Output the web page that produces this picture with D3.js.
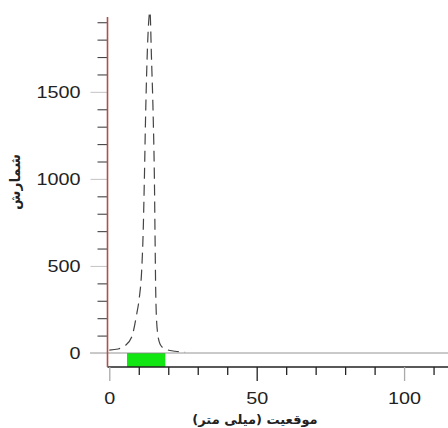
<!DOCTYPE html>
<html><head><meta charset="utf-8">
<script src="https://cdn.jsdelivr.net/npm/d3@7"></script>
<style>body{margin:0;background:#fff}svg{display:block}</style>
</head><body>
<script>
// Data (position in mm, counts)
const positions = [0, 3.0, 5.3, 7.6, 9.3, 10.2, 11.0, 11.5, 11.9, 12.3, 12.8, 13.8, 14.3, 14.9, 15.3, 15.5, 15.8, 16.3, 17.2, 18.9, 22.3, 25.7];
const counts    = [17, 23, 42, 92, 224, 320, 480, 700, 1000, 1350, 1680, 1960, 1700, 1350, 1000, 700, 305, 128, 52, 23, 10, 5];
const greenBand = [6, 19];
const xTicks = [0, 10, 20, 30, 40, 50, 60, 70, 80, 90, 100, 110];
const xMajor = [0, 50, 100];
const yTicks = [0,100,200,300,400,500,600,700,800,900,1000,1100,1200,1300,1400,1500,1600,1700,1800,1900];
const yMajor = [0, 500, 1000, 1500];
const xTitle = "موقعیت (میلی متر)";
const yTitle = "شمارش";

const W = 448, H = 428;
const svg = d3.select("body").append("svg").attr("width", W).attr("height", H);

const x = d3.scaleLinear().domain([0, 115]).range([109.3, 448.3]);
const y = d3.scaleLinear().domain([0, 1930]).range([353, 17]);
const axisY = 367;

// green band
svg.append("rect")
  .attr("x", x(greenBand[0])).attr("y", y(0))
  .attr("width", x(greenBand[1]) - x(greenBand[0]))
  .attr("height", axisY - y(0))
  .attr("fill", "#12e612");

// zero line
svg.append("line").attr("x1", 90).attr("x2", W).attr("y1", y(0)).attr("y2", y(0))
  .attr("stroke", "#888").attr("stroke-width", 0.9);

const digitW = 11;

// X axis
const xAxis = d3.axisBottom(x).tickValues(xTicks)
  .tickSize(8).tickFormat(d => xMajor.includes(d) ? d : "");
const gx = svg.append("g").attr("transform", `translate(0,${axisY})`).call(xAxis);
gx.select(".domain").attr("d", `M107.5,0H${W}`).attr("stroke", "#222").attr("stroke-width", 1.3);
gx.selectAll(".tick line")
  .attr("y2", d => xMajor.includes(d) ? 14 : 8)
  .attr("stroke", d => (d === 0 || d === 100) ? "#aaa" : "#222")
  .attr("stroke-width", 1.3);
gx.selectAll(".tick text").attr("y", 25)
  .attr("font-family", "Liberation Sans, Arial, sans-serif")
  .attr("font-size", 17).attr("fill", "#222")
  .each(function(d){ if (xMajor.includes(d)) d3.select(this).attr("textLength", String(d).length*digitW).attr("lengthAdjust","spacingAndGlyphs"); });

// Y axis
const yAxis = d3.axisLeft(y).tickValues(yTicks)
  .tickSize(10).tickFormat(d => yMajor.includes(d) ? d : "");
const gy = svg.append("g").attr("transform", `translate(107.5,0)`).call(yAxis);
gy.select(".domain").remove();
gy.selectAll(".tick line")
  .attr("x2", d => yMajor.includes(d) ? -17 : -10)
  .attr("stroke", d => yMajor.includes(d) ? "#c8c8c8" : "#444")
  .attr("stroke-width", 1.1);
gy.selectAll(".tick text").attr("x", -27)
  .attr("font-family", "Liberation Sans, Arial, sans-serif")
  .attr("font-size", 17).attr("fill", "#222")
  .each(function(d){ if (yMajor.includes(d)) d3.select(this).attr("textLength", String(d).length*digitW).attr("lengthAdjust","spacingAndGlyphs"); });
svg.append("line").attr("x1", 107.5).attr("x2", 107.5).attr("y1", 17).attr("y2", axisY)
  .attr("stroke", "#b0504c").attr("stroke-width", 1.6);

// curve
const line = d3.line().x((d, i) => x(positions[i])).y(d => y(d)).curve(d3.curveMonotoneX);
svg.append("path").datum(counts).attr("d", line)
  .attr("fill", "none").attr("stroke", "#444").attr("stroke-width", 1.2)
  .attr("stroke-dasharray", "11,6");

// titles
svg.append("text").attr("x", 255).attr("y", 424).attr("text-anchor", "middle")
  .attr("font-family", "DejaVu Sans, sans-serif").attr("font-weight", "bold")
  .attr("font-size", 13).attr("fill", "#222").attr("direction", "rtl")
  .style("unicode-bidi", "plaintext").text(xTitle);
svg.append("text").attr("transform", "translate(20,182) rotate(-90)").attr("text-anchor", "middle")
  .attr("font-family", "DejaVu Sans, sans-serif").attr("font-weight", "bold")
  .attr("font-size", 14).attr("fill", "#222").text(yTitle);
</script>
</body></html>
